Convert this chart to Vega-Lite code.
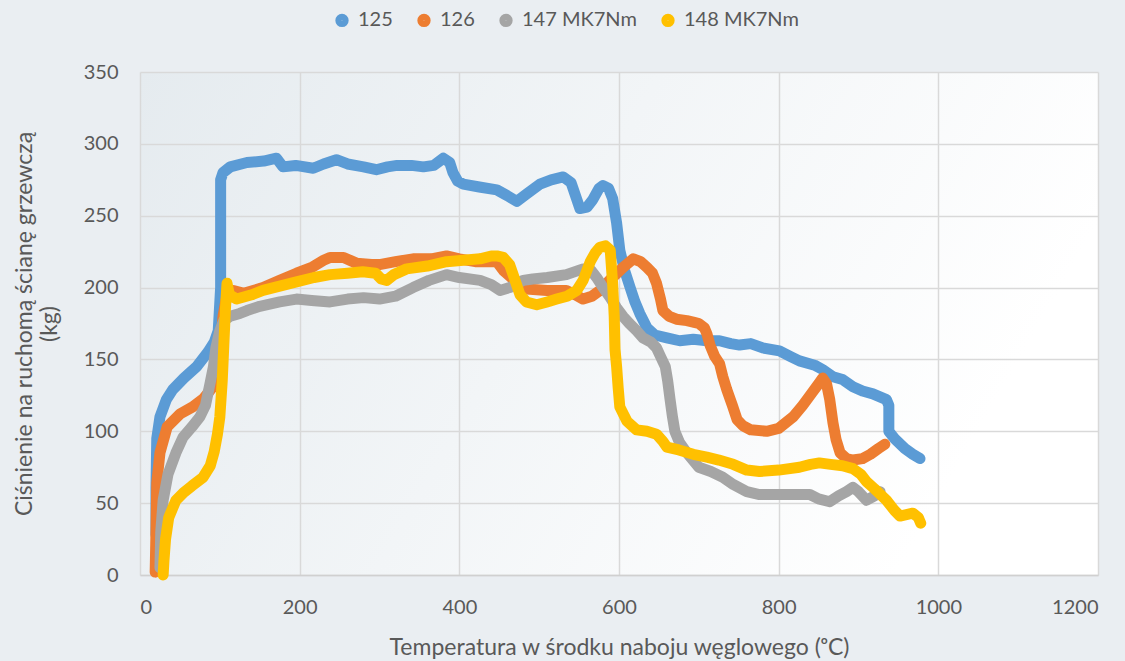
{
  "$schema": "https://vega.github.io/schema/vega-lite/v6.json",
  "width": 958,
  "height": 503,
  "autosize": "none",
  "padding": {"left": 140, "top": 72, "right": 27, "bottom": 86},
  "background": "#eaeef2",
  "config": {
    "view": {"stroke": null, "fill": {"gradient": "linear", "x1": 0, "y1": 0, "x2": 1, "y2": 0.3, "stops": [{"offset": 0, "color": "#e5ebef"}, {"offset": 0.5, "color": "#f2f5f7"}, {"offset": 1, "color": "#ffffff"}]}},
    "font": "Lato",
    "axis": {
      "labelFont": "Lato",
      "titleFont": "Lato",
      "labelColor": "#595959",
      "titleColor": "#595959",
      "labelFontSize": 20,
      "titleFontSize": 23,
      "titleFontWeight": "normal",
      "gridColor": "#d9d9d9",
      "gridWidth": 1.5,
      "domainColor": "#d0d0d0",
      "domainWidth": 1.5,
      "ticks": false
    },
    "legend": {
      "labelFont": "Lato",
      "labelFontSize": 20,
      "labelColor": "#595959"
    }
  },
  "data": {
    "values": [
      {"s": "125", "t": 20, "p": 28}, {"s": "125", "t": 20, "p": 60}, {"s": "125", "t": 21, "p": 95}, {"s": "125", "t": 25, "p": 110}, {"s": "125", "t": 33, "p": 122}, {"s": "125", "t": 41, "p": 129}, {"s": "125", "t": 55, "p": 137}, {"s": "125", "t": 71, "p": 145}, {"s": "125", "t": 85, "p": 155}, {"s": "125", "t": 93, "p": 162}, {"s": "125", "t": 98, "p": 170}, {"s": "125", "t": 101, "p": 200}, {"s": "125", "t": 101, "p": 250}, {"s": "125", "t": 101, "p": 275}, {"s": "125", "t": 104, "p": 280}, {"s": "125", "t": 113, "p": 284}, {"s": "125", "t": 134, "p": 287}, {"s": "125", "t": 155, "p": 288}, {"s": "125", "t": 171, "p": 290}, {"s": "125", "t": 179, "p": 284}, {"s": "125", "t": 195, "p": 285}, {"s": "125", "t": 217, "p": 283}, {"s": "125", "t": 230, "p": 286}, {"s": "125", "t": 246, "p": 289}, {"s": "125", "t": 260, "p": 286}, {"s": "125", "t": 280, "p": 284}, {"s": "125", "t": 296, "p": 282}, {"s": "125", "t": 310, "p": 284}, {"s": "125", "t": 322, "p": 285}, {"s": "125", "t": 340, "p": 285}, {"s": "125", "t": 355, "p": 284}, {"s": "125", "t": 368, "p": 285}, {"s": "125", "t": 380, "p": 290}, {"s": "125", "t": 388, "p": 287}, {"s": "125", "t": 392, "p": 280}, {"s": "125", "t": 398, "p": 274}, {"s": "125", "t": 405, "p": 272}, {"s": "125", "t": 425, "p": 270}, {"s": "125", "t": 447, "p": 268}, {"s": "125", "t": 460, "p": 264}, {"s": "125", "t": 472, "p": 260}, {"s": "125", "t": 484, "p": 265}, {"s": "125", "t": 501, "p": 272}, {"s": "125", "t": 515, "p": 275}, {"s": "125", "t": 530, "p": 277}, {"s": "125", "t": 540, "p": 273}, {"s": "125", "t": 551, "p": 255}, {"s": "125", "t": 560, "p": 256}, {"s": "125", "t": 567, "p": 261}, {"s": "125", "t": 575, "p": 269}, {"s": "125", "t": 580, "p": 271}, {"s": "125", "t": 587, "p": 269}, {"s": "125", "t": 592, "p": 262}, {"s": "125", "t": 597, "p": 245}, {"s": "125", "t": 601, "p": 226}, {"s": "125", "t": 607, "p": 212}, {"s": "125", "t": 614, "p": 200}, {"s": "125", "t": 620, "p": 190}, {"s": "125", "t": 626, "p": 182}, {"s": "125", "t": 635, "p": 172}, {"s": "125", "t": 645, "p": 167}, {"s": "125", "t": 660, "p": 165}, {"s": "125", "t": 676, "p": 163}, {"s": "125", "t": 693, "p": 164}, {"s": "125", "t": 710, "p": 163}, {"s": "125", "t": 726, "p": 163}, {"s": "125", "t": 740, "p": 161}, {"s": "125", "t": 751, "p": 160}, {"s": "125", "t": 765, "p": 161}, {"s": "125", "t": 780, "p": 158}, {"s": "125", "t": 801, "p": 156}, {"s": "125", "t": 815, "p": 152}, {"s": "125", "t": 826, "p": 149}, {"s": "125", "t": 845, "p": 146}, {"s": "125", "t": 855, "p": 143}, {"s": "125", "t": 868, "p": 138}, {"s": "125", "t": 880, "p": 136}, {"s": "125", "t": 893, "p": 131}, {"s": "125", "t": 905, "p": 128}, {"s": "125", "t": 918, "p": 126}, {"s": "125", "t": 935, "p": 122}, {"s": "125", "t": 938, "p": 118}, {"s": "125", "t": 938, "p": 100}, {"s": "125", "t": 945, "p": 95}, {"s": "125", "t": 958, "p": 88}, {"s": "125", "t": 968, "p": 84}, {"s": "125", "t": 977, "p": 81},

      {"s": "126", "t": 19, "p": 2}, {"s": "126", "t": 20, "p": 30}, {"s": "126", "t": 21, "p": 64}, {"s": "126", "t": 25, "p": 85}, {"s": "126", "t": 34, "p": 103}, {"s": "126", "t": 50, "p": 112}, {"s": "126", "t": 66, "p": 117}, {"s": "126", "t": 80, "p": 123}, {"s": "126", "t": 90, "p": 130}, {"s": "126", "t": 97, "p": 142}, {"s": "126", "t": 101, "p": 160}, {"s": "126", "t": 104, "p": 180}, {"s": "126", "t": 108, "p": 192}, {"s": "126", "t": 117, "p": 198}, {"s": "126", "t": 130, "p": 196}, {"s": "126", "t": 154, "p": 200}, {"s": "126", "t": 175, "p": 205}, {"s": "126", "t": 196, "p": 210}, {"s": "126", "t": 215, "p": 214}, {"s": "126", "t": 230, "p": 219}, {"s": "126", "t": 238, "p": 221}, {"s": "126", "t": 255, "p": 221}, {"s": "126", "t": 271, "p": 217}, {"s": "126", "t": 290, "p": 216}, {"s": "126", "t": 300, "p": 216}, {"s": "126", "t": 320, "p": 218}, {"s": "126", "t": 342, "p": 220}, {"s": "126", "t": 365, "p": 220}, {"s": "126", "t": 384, "p": 222}, {"s": "126", "t": 400, "p": 220}, {"s": "126", "t": 420, "p": 218}, {"s": "126", "t": 447, "p": 218}, {"s": "126", "t": 455, "p": 212}, {"s": "126", "t": 465, "p": 207}, {"s": "126", "t": 484, "p": 199}, {"s": "126", "t": 510, "p": 198}, {"s": "126", "t": 534, "p": 198}, {"s": "126", "t": 545, "p": 195}, {"s": "126", "t": 555, "p": 192}, {"s": "126", "t": 566, "p": 194}, {"s": "126", "t": 576, "p": 198}, {"s": "126", "t": 590, "p": 206}, {"s": "126", "t": 605, "p": 214}, {"s": "126", "t": 618, "p": 220}, {"s": "126", "t": 627, "p": 218}, {"s": "126", "t": 635, "p": 214}, {"s": "126", "t": 642, "p": 210}, {"s": "126", "t": 647, "p": 203}, {"s": "126", "t": 652, "p": 192}, {"s": "126", "t": 655, "p": 184}, {"s": "126", "t": 663, "p": 180}, {"s": "126", "t": 672, "p": 178}, {"s": "126", "t": 685, "p": 177}, {"s": "126", "t": 693, "p": 176}, {"s": "126", "t": 700, "p": 175}, {"s": "126", "t": 707, "p": 172}, {"s": "126", "t": 710, "p": 168}, {"s": "126", "t": 714, "p": 160}, {"s": "126", "t": 720, "p": 152}, {"s": "126", "t": 726, "p": 147}, {"s": "126", "t": 730, "p": 138}, {"s": "126", "t": 735, "p": 129}, {"s": "126", "t": 742, "p": 118}, {"s": "126", "t": 748, "p": 108}, {"s": "126", "t": 755, "p": 104}, {"s": "126", "t": 765, "p": 101}, {"s": "126", "t": 785, "p": 100}, {"s": "126", "t": 800, "p": 102}, {"s": "126", "t": 818, "p": 110}, {"s": "126", "t": 830, "p": 118}, {"s": "126", "t": 842, "p": 127}, {"s": "126", "t": 850, "p": 133}, {"s": "126", "t": 855, "p": 137}, {"s": "126", "t": 860, "p": 133}, {"s": "126", "t": 864, "p": 122}, {"s": "126", "t": 868, "p": 106}, {"s": "126", "t": 872, "p": 94}, {"s": "126", "t": 877, "p": 85}, {"s": "126", "t": 885, "p": 81}, {"s": "126", "t": 893, "p": 80}, {"s": "126", "t": 905, "p": 81}, {"s": "126", "t": 915, "p": 84}, {"s": "126", "t": 925, "p": 88}, {"s": "126", "t": 933, "p": 91},

      {"s": "147 MK7Nm", "t": 25, "p": 5}, {"s": "147 MK7Nm", "t": 26, "p": 30}, {"s": "147 MK7Nm", "t": 29, "p": 52}, {"s": "147 MK7Nm", "t": 35, "p": 70}, {"s": "147 MK7Nm", "t": 45, "p": 85}, {"s": "147 MK7Nm", "t": 54, "p": 96}, {"s": "147 MK7Nm", "t": 65, "p": 103}, {"s": "147 MK7Nm", "t": 75, "p": 110}, {"s": "147 MK7Nm", "t": 82, "p": 118}, {"s": "147 MK7Nm", "t": 88, "p": 134}, {"s": "147 MK7Nm", "t": 92, "p": 145}, {"s": "147 MK7Nm", "t": 95, "p": 158}, {"s": "147 MK7Nm", "t": 100, "p": 170}, {"s": "147 MK7Nm", "t": 105, "p": 177}, {"s": "147 MK7Nm", "t": 113, "p": 180}, {"s": "147 MK7Nm", "t": 125, "p": 182}, {"s": "147 MK7Nm", "t": 134, "p": 184}, {"s": "147 MK7Nm", "t": 150, "p": 187}, {"s": "147 MK7Nm", "t": 175, "p": 190}, {"s": "147 MK7Nm", "t": 196, "p": 192}, {"s": "147 MK7Nm", "t": 215, "p": 191}, {"s": "147 MK7Nm", "t": 238, "p": 190}, {"s": "147 MK7Nm", "t": 260, "p": 192}, {"s": "147 MK7Nm", "t": 280, "p": 193}, {"s": "147 MK7Nm", "t": 300, "p": 192}, {"s": "147 MK7Nm", "t": 320, "p": 194}, {"s": "147 MK7Nm", "t": 342, "p": 200}, {"s": "147 MK7Nm", "t": 362, "p": 205}, {"s": "147 MK7Nm", "t": 384, "p": 209}, {"s": "147 MK7Nm", "t": 400, "p": 207}, {"s": "147 MK7Nm", "t": 426, "p": 205}, {"s": "147 MK7Nm", "t": 440, "p": 202}, {"s": "147 MK7Nm", "t": 451, "p": 198}, {"s": "147 MK7Nm", "t": 463, "p": 200}, {"s": "147 MK7Nm", "t": 480, "p": 205}, {"s": "147 MK7Nm", "t": 492, "p": 206}, {"s": "147 MK7Nm", "t": 510, "p": 207}, {"s": "147 MK7Nm", "t": 534, "p": 209}, {"s": "147 MK7Nm", "t": 555, "p": 213}, {"s": "147 MK7Nm", "t": 565, "p": 212}, {"s": "147 MK7Nm", "t": 572, "p": 207}, {"s": "147 MK7Nm", "t": 580, "p": 200}, {"s": "147 MK7Nm", "t": 589, "p": 193}, {"s": "147 MK7Nm", "t": 597, "p": 186}, {"s": "147 MK7Nm", "t": 605, "p": 180}, {"s": "147 MK7Nm", "t": 613, "p": 175}, {"s": "147 MK7Nm", "t": 622, "p": 170}, {"s": "147 MK7Nm", "t": 630, "p": 165}, {"s": "147 MK7Nm", "t": 640, "p": 162}, {"s": "147 MK7Nm", "t": 647, "p": 158}, {"s": "147 MK7Nm", "t": 652, "p": 152}, {"s": "147 MK7Nm", "t": 658, "p": 145}, {"s": "147 MK7Nm", "t": 661, "p": 135}, {"s": "147 MK7Nm", "t": 664, "p": 122}, {"s": "147 MK7Nm", "t": 667, "p": 110}, {"s": "147 MK7Nm", "t": 670, "p": 100}, {"s": "147 MK7Nm", "t": 676, "p": 92}, {"s": "147 MK7Nm", "t": 685, "p": 85}, {"s": "147 MK7Nm", "t": 700, "p": 75}, {"s": "147 MK7Nm", "t": 715, "p": 72}, {"s": "147 MK7Nm", "t": 730, "p": 68}, {"s": "147 MK7Nm", "t": 743, "p": 63}, {"s": "147 MK7Nm", "t": 760, "p": 58}, {"s": "147 MK7Nm", "t": 776, "p": 56}, {"s": "147 MK7Nm", "t": 800, "p": 56}, {"s": "147 MK7Nm", "t": 820, "p": 56}, {"s": "147 MK7Nm", "t": 839, "p": 56}, {"s": "147 MK7Nm", "t": 850, "p": 53}, {"s": "147 MK7Nm", "t": 864, "p": 51}, {"s": "147 MK7Nm", "t": 875, "p": 55}, {"s": "147 MK7Nm", "t": 885, "p": 58}, {"s": "147 MK7Nm", "t": 893, "p": 61}, {"s": "147 MK7Nm", "t": 900, "p": 58}, {"s": "147 MK7Nm", "t": 910, "p": 52}, {"s": "147 MK7Nm", "t": 920, "p": 55}, {"s": "147 MK7Nm", "t": 927, "p": 58},

      {"s": "148 MK7Nm", "t": 29, "p": 0}, {"s": "148 MK7Nm", "t": 30, "p": 10}, {"s": "148 MK7Nm", "t": 32, "p": 25}, {"s": "148 MK7Nm", "t": 36, "p": 40}, {"s": "148 MK7Nm", "t": 45, "p": 52}, {"s": "148 MK7Nm", "t": 54, "p": 57}, {"s": "148 MK7Nm", "t": 65, "p": 62}, {"s": "148 MK7Nm", "t": 79, "p": 68}, {"s": "148 MK7Nm", "t": 88, "p": 76}, {"s": "148 MK7Nm", "t": 93, "p": 86}, {"s": "148 MK7Nm", "t": 97, "p": 98}, {"s": "148 MK7Nm", "t": 100, "p": 110}, {"s": "148 MK7Nm", "t": 103, "p": 135}, {"s": "148 MK7Nm", "t": 105, "p": 160}, {"s": "148 MK7Nm", "t": 107, "p": 185}, {"s": "148 MK7Nm", "t": 109, "p": 203}, {"s": "148 MK7Nm", "t": 112, "p": 195}, {"s": "148 MK7Nm", "t": 121, "p": 192}, {"s": "148 MK7Nm", "t": 140, "p": 195}, {"s": "148 MK7Nm", "t": 154, "p": 198}, {"s": "148 MK7Nm", "t": 175, "p": 201}, {"s": "148 MK7Nm", "t": 196, "p": 204}, {"s": "148 MK7Nm", "t": 218, "p": 207}, {"s": "148 MK7Nm", "t": 238, "p": 209}, {"s": "148 MK7Nm", "t": 260, "p": 210}, {"s": "148 MK7Nm", "t": 279, "p": 211}, {"s": "148 MK7Nm", "t": 295, "p": 210}, {"s": "148 MK7Nm", "t": 302, "p": 206}, {"s": "148 MK7Nm", "t": 309, "p": 205}, {"s": "148 MK7Nm", "t": 318, "p": 209}, {"s": "148 MK7Nm", "t": 334, "p": 213}, {"s": "148 MK7Nm", "t": 360, "p": 215}, {"s": "148 MK7Nm", "t": 384, "p": 218}, {"s": "148 MK7Nm", "t": 405, "p": 219}, {"s": "148 MK7Nm", "t": 426, "p": 220}, {"s": "148 MK7Nm", "t": 440, "p": 222}, {"s": "148 MK7Nm", "t": 447, "p": 222}, {"s": "148 MK7Nm", "t": 455, "p": 221}, {"s": "148 MK7Nm", "t": 463, "p": 216}, {"s": "148 MK7Nm", "t": 468, "p": 208}, {"s": "148 MK7Nm", "t": 476, "p": 195}, {"s": "148 MK7Nm", "t": 484, "p": 190}, {"s": "148 MK7Nm", "t": 497, "p": 188}, {"s": "148 MK7Nm", "t": 510, "p": 190}, {"s": "148 MK7Nm", "t": 522, "p": 192}, {"s": "148 MK7Nm", "t": 535, "p": 194}, {"s": "148 MK7Nm", "t": 547, "p": 198}, {"s": "148 MK7Nm", "t": 555, "p": 205}, {"s": "148 MK7Nm", "t": 564, "p": 218}, {"s": "148 MK7Nm", "t": 570, "p": 224}, {"s": "148 MK7Nm", "t": 576, "p": 228}, {"s": "148 MK7Nm", "t": 583, "p": 229}, {"s": "148 MK7Nm", "t": 589, "p": 226}, {"s": "148 MK7Nm", "t": 592, "p": 203}, {"s": "148 MK7Nm", "t": 594, "p": 180}, {"s": "148 MK7Nm", "t": 595, "p": 157}, {"s": "148 MK7Nm", "t": 597, "p": 145}, {"s": "148 MK7Nm", "t": 599, "p": 130}, {"s": "148 MK7Nm", "t": 601, "p": 117}, {"s": "148 MK7Nm", "t": 610, "p": 107}, {"s": "148 MK7Nm", "t": 622, "p": 101}, {"s": "148 MK7Nm", "t": 635, "p": 100}, {"s": "148 MK7Nm", "t": 647, "p": 98}, {"s": "148 MK7Nm", "t": 655, "p": 93}, {"s": "148 MK7Nm", "t": 660, "p": 89}, {"s": "148 MK7Nm", "t": 675, "p": 87}, {"s": "148 MK7Nm", "t": 693, "p": 84}, {"s": "148 MK7Nm", "t": 710, "p": 82}, {"s": "148 MK7Nm", "t": 725, "p": 80}, {"s": "148 MK7Nm", "t": 743, "p": 77}, {"s": "148 MK7Nm", "t": 760, "p": 73}, {"s": "148 MK7Nm", "t": 776, "p": 72}, {"s": "148 MK7Nm", "t": 800, "p": 73}, {"s": "148 MK7Nm", "t": 826, "p": 75}, {"s": "148 MK7Nm", "t": 840, "p": 77}, {"s": "148 MK7Nm", "t": 851, "p": 78}, {"s": "148 MK7Nm", "t": 865, "p": 77}, {"s": "148 MK7Nm", "t": 880, "p": 76}, {"s": "148 MK7Nm", "t": 893, "p": 74}, {"s": "148 MK7Nm", "t": 903, "p": 70}, {"s": "148 MK7Nm", "t": 910, "p": 65}, {"s": "148 MK7Nm", "t": 920, "p": 60}, {"s": "148 MK7Nm", "t": 935, "p": 52}, {"s": "148 MK7Nm", "t": 945, "p": 45}, {"s": "148 MK7Nm", "t": 952, "p": 41}, {"s": "148 MK7Nm", "t": 960, "p": 42}, {"s": "148 MK7Nm", "t": 968, "p": 43}, {"s": "148 MK7Nm", "t": 975, "p": 40}, {"s": "148 MK7Nm", "t": 978, "p": 36}
    ]
  },
  "mark": {"type": "line", "strokeWidth": 11, "strokeCap": "round", "strokeJoin": "round", "clip": false},
  "encoding": {
    "x": {
      "field": "t",
      "type": "quantitative",
      "scale": {"domain": [0, 1200], "nice": false, "zero": true},
      "axis": {
        "values": [0, 200, 400, 600, 800, 1000, 1200],
        "format": "d",
        "title": "Temperatura w środku naboju węglowego (ᵒC)",
        "labelPadding": 22,
        "titlePadding": 19,
        "domain": true
      }
    },
    "y": {
      "field": "p",
      "type": "quantitative",
      "scale": {"domain": [0, 350], "nice": false},
      "axis": {
        "values": [0, 50, 100, 150, 200, 250, 300, 350],
        "format": "d",
        "title": ["Ciśnienie na ruchomą ścianę grzewczą", "(kg)"],
        "labelPadding": 22,
        "titlePadding": 22,
        "domain": false
      }
    },
    "color": {
      "field": "s",
      "type": "nominal",
      "scale": {
        "domain": ["125", "126", "147 MK7Nm", "148 MK7Nm"],
        "range": ["#5B9BD5", "#ED7D31", "#A5A5A5", "#FFC000"]
      },
      "legend": {
        "title": null,
        "orient": "none",
        "direction": "horizontal",
        "legendX": 192,
        "legendY": -62,
        "symbolType": "circle",
        "symbolSize": 40,
        "symbolStrokeWidth": 7,
        "labelOffset": 6,
        "columnPadding": 13
      }
    },
    "order": {"value": null}
  }
}
